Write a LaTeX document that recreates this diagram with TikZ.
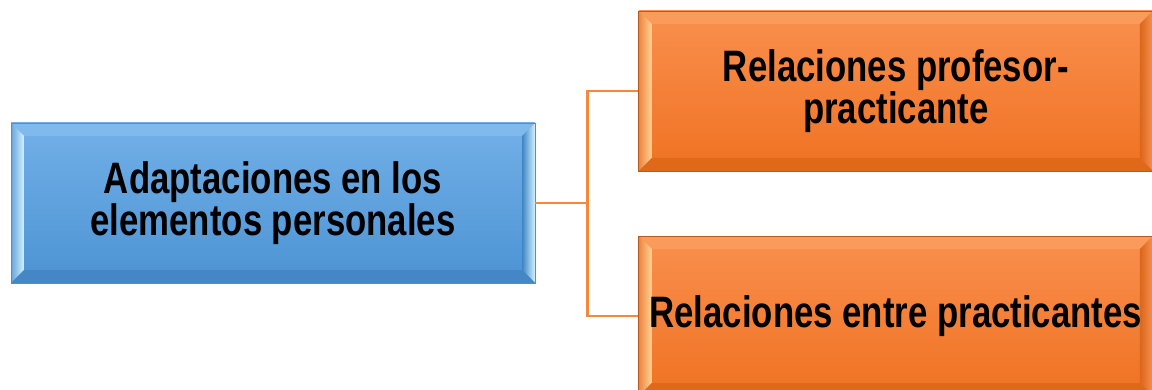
\documentclass[tikz,border=0pt]{standalone}
\usepackage{fontspec}
\setmainfont{Liberation Sans}[FakeStretch=0.79]
\usetikzlibrary{positioning, calc}

\definecolor{bluetop}{HTML}{72B0E8}
\definecolor{bluebot}{HTML}{4C93D3}
\definecolor{blueface}{HTML}{80BAEC}
\definecolor{bluelow}{HTML}{4587C6}
\definecolor{bluedark}{HTML}{3F84C4}
\definecolor{bluelight}{HTML}{D2F2FF}
\definecolor{blueline}{HTML}{5A8CC0}
\definecolor{orgtop}{HTML}{F98F4E}
\definecolor{orgbot}{HTML}{F07222}
\definecolor{orgface}{HTML}{FA9B5C}
\definecolor{orglow}{HTML}{E06819}
\definecolor{orgdark}{HTML}{D9661B}
\definecolor{orglight}{HTML}{FFD494}
\definecolor{orgline}{HTML}{B85A1E}
\definecolor{linkorange}{HTML}{F4893E}

% bevel faces drawn inside a box: top, left inner, right outer, bottom, dark
\newcommand{\bevelfaces}[5]{%
  \coordinate (bnw) at (path picture bounding box.north west);
  \coordinate (bse) at (path picture bounding box.south east);
  \coordinate (bne) at (bse |- bnw);
  \coordinate (bsw) at (bnw |- bse);
  \fill[#1] (bnw) -- (bne) -- ($(bne)+(-13,-13)$) -- ($(bnw)+(13,-13)$) -- cycle;
  \shade[left color=#5!40!#1, right color=#2] (bnw) -- ($(bnw)+(13,-13)$) -- ($(bsw)+(13,13)$) -- (bsw) -- cycle;
  \shade[left color=#5, right color=#3] (bne) -- ($(bne)+(-13,-13)$) -- ($(bse)+(-13,13)$) -- (bse) -- cycle;
  \fill[#4] (bsw) -- ($(bsw)+(13,13)$) -- ($(bse)+(-13,13)$) -- (bse) -- cycle;
}

\begin{document}
\begin{tikzpicture}[x=1pt,y=1pt,
 font=\fontsize{44}{41}\selectfont\bfseries,
 rootbox/.style={rectangle, minimum width=524pt, minimum height=160pt, inner sep=0pt,
   align=center, top color=bluetop, bottom color=bluebot, draw=blueline, line width=0.8pt,
   path picture={\bevelfaces{blueface}{bluelight}{bluelight}{bluelow}{bluedark}}},
 leafbox/.style={rectangle, minimum width=514pt, minimum height=160pt, inner sep=0pt,
   align=center, top color=orgtop, bottom color=orgbot, draw=orgline, line width=0.8pt,
   path picture={\bevelfaces{orgface}{orglight}{orgtop}{orglow}{orgdark}}},
 link/.style={draw=linkorange, line width=2.5pt}]

  \clip (0,0) rectangle (1152,389);

  \node[rootbox] (root) at (273,186) {Adaptaciones en los\\elementos personales};
  \node[leafbox] (prof) [right=103pt of root, yshift=112pt] {Relaciones profesor-\\practicante};
  \node[leafbox] (entre) [right=103pt of root, yshift=-113pt] {Relaciones entre practicantes};

  \foreach \t in {prof, entre} {
   \path[link] (root.east) -- ++(52,0) |- (\t.west);}
\end{tikzpicture}
\end{document}
